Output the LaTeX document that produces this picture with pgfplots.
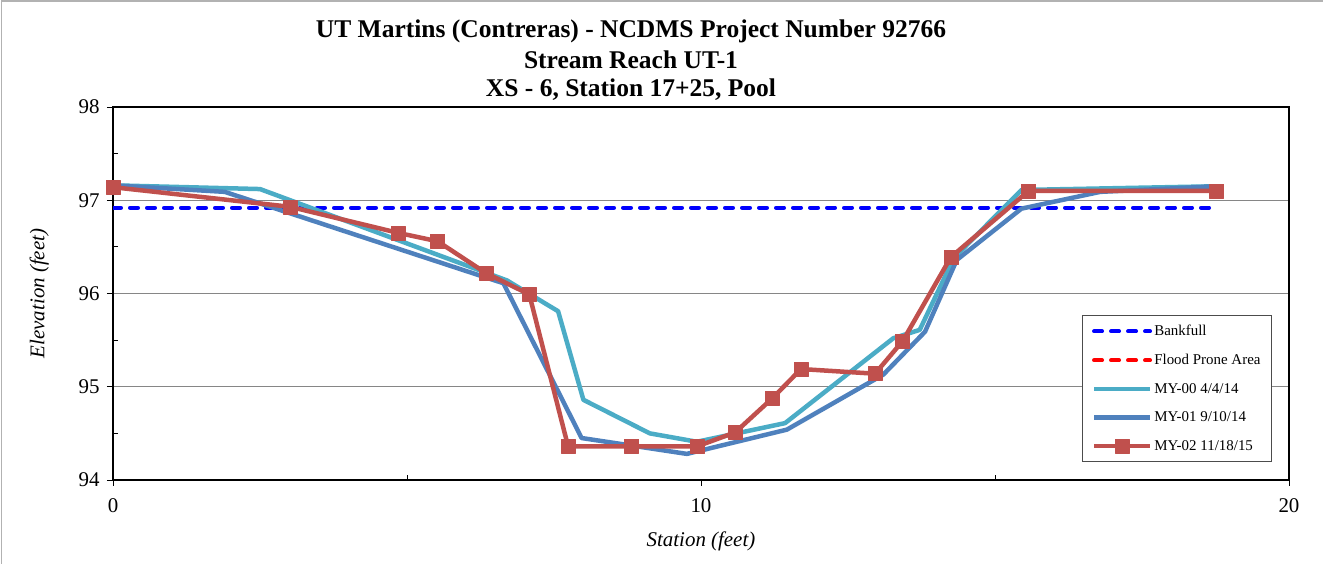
\documentclass[border=0pt]{standalone}
\usepackage{pgfplots}
\pgfplotsset{compat=1.18}
\usepackage{fontspec}
\setmainfont{Liberation Serif}
\definecolor{cMYa}{HTML}{4BACC6}
\definecolor{cMYb}{HTML}{4F81BD}
\definecolor{cMYc}{HTML}{C0504D}
\definecolor{gridc}{HTML}{868686}
\begin{document}
\begin{tikzpicture}
\useasboundingbox (0,0) rectangle (1323bp,564bp);
\draw[black!30, line width=1.5bp] (1.5bp,0) -- (1.5bp,563bp) -- (1323bp,563bp);
\node[font=\fontsize{25.6}{25.6}\selectfont\bfseries] at (631bp,533bp) {UT Martins (Contreras) - NCDMS Project Number 92766};
\node[font=\fontsize{25.6}{25.6}\selectfont\bfseries] at (631bp,504bp) {Stream Reach UT-1};
\node[font=\fontsize{25.6}{25.6}\selectfont\bfseries] at (631bp,474bp) {XS - 6, Station 17+25, Pool};
\begin{axis}[
  at={(113bp,84bp)}, anchor=south west,
  scale only axis, width=1176bp, height=373bp,
  xmin=0, xmax=20, ymin=94, ymax=98,
  xtick={0,10,20}, minor xtick={5,15},
  ytick={94,95,96,97,98}, minor ytick={94.5,95.5,96.5,97.5},
  xtick pos=bottom, ytick pos=left,
  tick align=outside, major tick length=6bp, minor tick length=-5bp,
  every tick/.style={black, line width=0.8bp},
  axis line style={line width=1.8bp, black},
  ymajorgrids, grid style={gridc, line width=1bp},
  /pgf/number format/assume math mode=true,
  tick label style={font=\fontsize{21}{21}\selectfont},
  xticklabel style={yshift=-9bp},
  yticklabel style={xshift=-4bp},
  xlabel={\textit{Station (feet)}}, ylabel={\textit{Elevation (feet)}},
  label style={font=\fontsize{21}{21}\selectfont},
  xlabel style={yshift=-12bp},
  ylabel style={yshift=23bp},
  legend cell align=left,
  legend style={at={(0.9855,0.4424)}, anchor=north east, draw=black!70, line width=0.8bp,
    font=\fontsize{15}{15}\selectfont, row sep=13bp, inner xsep=9bp, inner ysep=8bp,
    nodes={inner sep=2bp}},
  legend image code/.code={\draw[mark repeat=2,mark phase=2,#1] plot coordinates {(0bp,0bp) (28bp,0bp) (56bp,0bp)};},
]
\addplot[blue, line width=4bp, dash pattern=on 8bp off 9bp, line cap=round] coordinates {(0,96.92) (18.77,96.92)};
\addlegendentry{Bankfull}
\addlegendimage{red, line width=4bp, dash pattern=on 8bp off 9bp, line cap=round}
\addlegendentry{Flood Prone Area}
\addplot[cMYa, line width=4.5bp, line join=round] coordinates {
(0,97.16) (2.5,97.12) (6.7,96.14) (7.57,95.81) (8.0,94.86) (9.13,94.50) (9.93,94.41)
(11.43,94.61) (13.27,95.52) (13.72,95.61) (14.3,96.38) (15.45,97.11) (18.77,97.15)};
\addlegendentry{MY-00 4/4/14}
\addplot[cMYb, line width=4.5bp, line join=round] coordinates {
(0,97.16) (1.9,97.09) (6.64,96.11) (7.97,94.45) (9.76,94.28) (11.46,94.54) (13.1,95.13)
(13.81,95.59) (14.35,96.36) (15.45,96.91) (16.79,97.09) (18.77,97.15)};
\addlegendentry{MY-01 9/10/14}
\addplot[cMYc, line width=4.5bp, line join=round, mark=square*, mark size=7bp, mark options={fill=cMYc, draw=cMYc, line width=0.5bp}] coordinates {
(0,97.14) (3.01,96.93) (4.85,96.65) (5.52,96.56) (6.34,96.22) (7.08,95.99) (7.74,94.36)
(8.82,94.36) (9.93,94.36) (10.58,94.51) (11.22,94.88) (11.70,95.19) (12.96,95.14)
(13.43,95.49) (14.25,96.39) (15.57,97.10) (18.77,97.10)};
\addlegendentry{MY-02 11/18/15}
\end{axis}
\end{tikzpicture}
\end{document}
